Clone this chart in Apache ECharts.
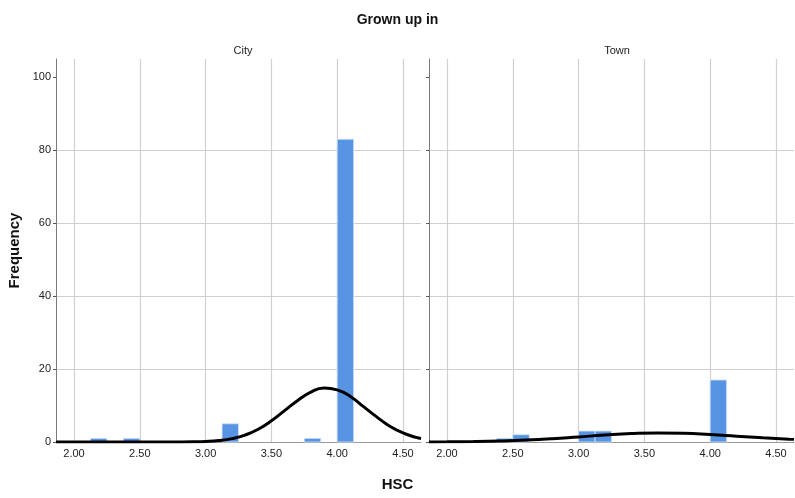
<!DOCTYPE html>
<html>
<head>
<meta charset="utf-8">
<script src="https://cdn.jsdelivr.net/npm/echarts@6/dist/echarts.min.js"></script>
<style>
  html, body { margin: 0; padding: 0; background: #fff; }
  #chart { width: 795px; height: 498px; }
</style>
</head>
<body>
<div id="chart"></div>
<script>
// histogram bins (width 0.125), counts
var binWidth = 0.125;
var cityBinStart = [2.125, 2.375, 3.125, 3.75, 4.0];
var cityCounts = [1, 1, 5, 1, 83];
var townBinStart = [2.375, 2.5, 3.0, 3.125, 4.0];
var townCounts = [1, 2, 3, 3, 17];

// normal curves
var cityCurveX = [1.863, 2.0, 2.2, 2.4, 2.6, 2.8, 2.9, 3.0, 3.1, 3.2, 3.3, 3.4, 3.5, 3.6, 3.7, 3.8, 3.9, 4.0, 4.1, 4.2, 4.3, 4.4, 4.5, 4.6, 4.637];
var cityCurveY = [0, 0, 0, 0, 0, 0.02, 0.06, 0.16, 0.41, 0.93, 1.9, 3.5, 5.8, 8.6, 11.4, 13.7, 14.8, 14.3, 12.5, 9.7, 6.9, 4.3, 2.5, 1.25, 0.95];
var townCurveX = [1.863, 2.0, 2.2, 2.4, 2.6, 2.8, 3.0, 3.2, 3.4, 3.6, 3.8, 4.0, 4.2, 4.4, 4.6, 4.637];
var townCurveY = [0.03, 0.05, 0.12, 0.27, 0.52, 0.9, 1.4, 1.9, 2.3, 2.48, 2.4, 2.05, 1.6, 1.15, 0.78, 0.72];

var xTicks = [2.0, 2.5, 3.0, 3.5, 4.0, 4.5];
var yTicks = [0, 20, 40, 60, 80, 100];

var font = 'Liberation Sans, Arial, sans-serif';

function bins(starts, counts) {
    var out = [];
    for (var i = 0; i < starts.length; i++) {
        out.push([starts[i], starts[i] + binWidth, counts[i]]);
    }
    return out;
}
function pairs(xs, ys) {
    var out = [];
    for (var i = 0; i < xs.length; i++) out.push([xs[i], ys[i]]);
    return out;
}

function renderBar(params, api) {
    var p0 = api.coord([api.value(0), api.value(2)]);
    var p1 = api.coord([api.value(1), 0]);
    return {
        type: 'rect',
        shape: { x: p0[0], y: p0[1], width: p1[0] - p0[0], height: p1[1] - p0[1] },
        style: { fill: '#5795e4', stroke: '#d3e3f7', lineWidth: 0.8 }
    };
}

function xAxisFor(idx) {
    return {
        type: 'value',
        gridIndex: idx,
        min: 1.863,
        max: 4.637,
        axisLine: { show: true, onZero: false, lineStyle: { color: '#9a9a9a', width: 1 } },
        axisTick: { show: false, customValues: xTicks },
        axisLabel: {
            customValues: xTicks,
            color: '#222', fontSize: 11, fontFamily: font, margin: 6,
            formatter: function (v) { return v.toFixed(2); }
        },
        splitLine: { show: true, lineStyle: { color: '#d0d0d0', width: 1.2 } }
    };
}

function yAxisFor(idx, showLabels) {
    return {
        type: 'value',
        gridIndex: idx,
        min: 0,
        max: 105,
        axisLine: { show: true, lineStyle: { color: '#7a7a7a', width: 1 } },
        axisTick: { show: true, length: 3, customValues: yTicks, lineStyle: { color: '#555' } },
        axisLabel: {
            show: showLabels, customValues: yTicks,
            color: '#222', fontSize: 11, fontFamily: font, margin: 5
        },
        splitLine: { show: true, showMaxLine: false, lineStyle: { color: '#d0d0d0', width: 1.2 } },
        name: showLabels ? 'Frequency' : '',
        nameLocation: 'middle',
        nameRotate: 90,
        nameGap: 34,
        nameTextStyle: { fontSize: 15, fontWeight: 'bold', color: '#111', fontFamily: font }
    };
}

var chart = echarts.init(document.getElementById('chart'));
var option = {
    animation: false,
    backgroundColor: '#fff',
    title: [
        { text: 'Grown up in', left: 'center', top: 8,
          textStyle: { fontSize: 14, fontWeight: 'bold', color: '#111', fontFamily: font } },
        { text: 'City', left: 238, top: 40, textAlign: 'center',
          textStyle: { fontSize: 11, fontWeight: 'normal', color: '#222', fontFamily: font } },
        { text: 'Town', left: 612, top: 40, textAlign: 'center',
          textStyle: { fontSize: 11, fontWeight: 'normal', color: '#222', fontFamily: font } },
        { text: 'HSC', left: 'center', top: 472,
          textStyle: { fontSize: 15, fontWeight: 'bold', color: '#111', fontFamily: font } }
    ],
    grid: [
        { left: 56, right: 374, top: 59, bottom: 56 },
        { left: 429, right: 1, top: 59, bottom: 56 }
    ],
    xAxis: [xAxisFor(0), xAxisFor(1)],
    yAxis: [yAxisFor(0, true), yAxisFor(1, false)],
    series: [
        { type: 'custom', xAxisIndex: 0, yAxisIndex: 0, renderItem: renderBar,
          encode: { x: [0, 1], y: 2 }, data: bins(cityBinStart, cityCounts), z: 2 },
        { type: 'custom', xAxisIndex: 1, yAxisIndex: 1, renderItem: renderBar,
          encode: { x: [0, 1], y: 2 }, data: bins(townBinStart, townCounts), z: 2 },
        { type: 'line', xAxisIndex: 0, yAxisIndex: 0, data: pairs(cityCurveX, cityCurveY),
          smooth: true, showSymbol: false, z: 3,
          lineStyle: { color: '#000', width: 3 } },
        { type: 'line', xAxisIndex: 1, yAxisIndex: 1, data: pairs(townCurveX, townCurveY),
          smooth: true, showSymbol: false, z: 3,
          lineStyle: { color: '#000', width: 3 } }
    ]
};
chart.setOption(option);
</script>
</body>
</html>
